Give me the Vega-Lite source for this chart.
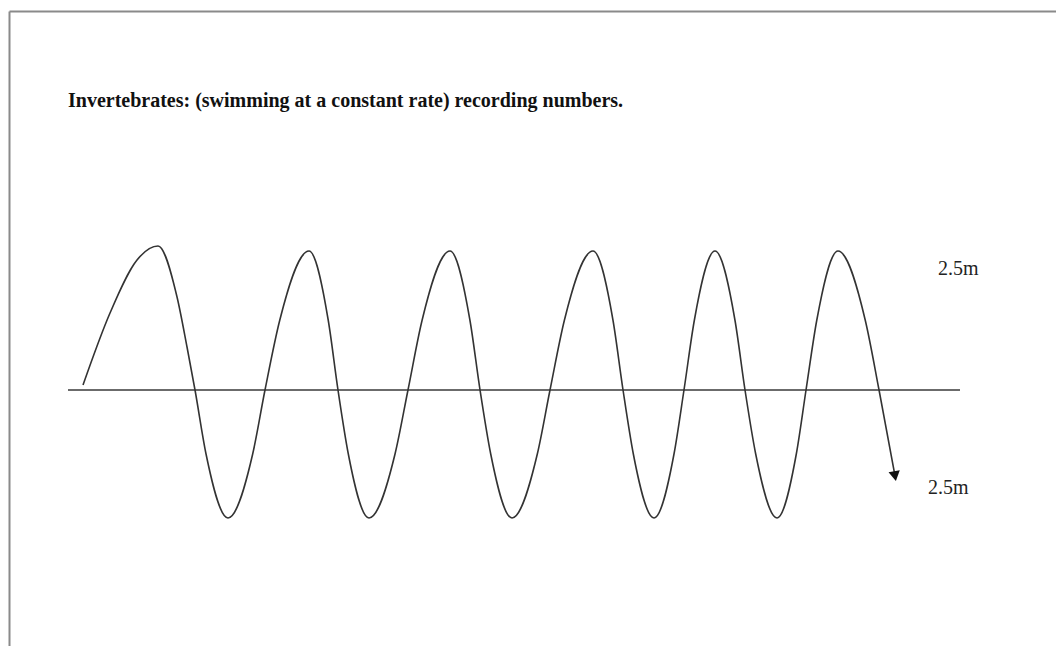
{
  "$schema": "https://vega.github.io/schema/vega-lite/v6.json",
  "width": 1047,
  "height": 635,
  "autosize": "none",
  "padding": {"left": 9, "top": 11, "right": 0, "bottom": 0},
  "background": "white",
  "view": {"stroke": null},
  "config": {
    "font": "Liberation Serif",
    "axis": {
      "domain": true,
      "domainColor": "#8a8a8a",
      "domainWidth": 2,
      "ticks": false,
      "labels": false,
      "grid": false,
      "title": null
    }
  },
  "datasets": {
    "path": [
      {"dist": 0.278, "depth": 0.093},
      {"dist": 0.778, "depth": 1.426},
      {"dist": 1.278, "depth": 2.407},
      {"dist": 1.667, "depth": 2.667},
      {"dist": 2.019, "depth": 1.722},
      {"dist": 2.204, "depth": 0.796},
      {"dist": 2.352, "depth": 0},
      {"dist": 2.556, "depth": -1.185},
      {"dist": 2.963, "depth": -2.37},
      {"dist": 3.42, "depth": -1.185},
      {"dist": 3.648, "depth": 0},
      {"dist": 3.92, "depth": 1.287},
      {"dist": 4.463, "depth": 2.574},
      {"dist": 4.82, "depth": 1.287},
      {"dist": 5.0, "depth": 0},
      {"dist": 5.191, "depth": -1.185},
      {"dist": 5.574, "depth": -2.37},
      {"dist": 6.056, "depth": -1.185},
      {"dist": 6.296, "depth": 0},
      {"dist": 6.556, "depth": 1.287},
      {"dist": 7.074, "depth": 2.574},
      {"dist": 7.444, "depth": 1.287},
      {"dist": 7.63, "depth": 0},
      {"dist": 7.828, "depth": -1.185},
      {"dist": 8.222, "depth": -2.37},
      {"dist": 8.691, "depth": -1.185},
      {"dist": 8.926, "depth": 0},
      {"dist": 9.191, "depth": 1.287},
      {"dist": 9.722, "depth": 2.574},
      {"dist": 10.093, "depth": 1.287},
      {"dist": 10.278, "depth": 0},
      {"dist": 10.469, "depth": -1.185},
      {"dist": 10.852, "depth": -2.37},
      {"dist": 11.222, "depth": -1.185},
      {"dist": 11.407, "depth": 0},
      {"dist": 11.598, "depth": 1.287},
      {"dist": 11.981, "depth": 2.574},
      {"dist": 12.352, "depth": 1.287},
      {"dist": 12.537, "depth": 0},
      {"dist": 12.735, "depth": -1.185},
      {"dist": 13.13, "depth": -2.37},
      {"dist": 13.487, "depth": -1.185},
      {"dist": 13.667, "depth": 0},
      {"dist": 13.865, "depth": 1.287},
      {"dist": 14.259, "depth": 2.574},
      {"dist": 14.765, "depth": 1.287},
      {"dist": 15.019, "depth": 0},
      {"dist": 15.315, "depth": -1.593}
    ],
    "arrowhead": [
      {"dist": 15.315, "depth": -1.593}
    ],
    "surface": [
      {"dist": 0, "dist_end": 16.519, "depth": 0}
    ],
    "amplitude": [
      {"dist": 16.111, "depth": 2.241, "label": "2.5m"},
      {"dist": 15.926, "depth": -1.815, "label": "2.5m"}
    ],
    "heading": [
      {"dist": 0, "depth": 5.241, "label": "Invertebrates: (swimming at a constant rate) recording numbers."}
    ]
  },
  "encoding": {
    "x": {
      "field": "dist",
      "type": "quantitative",
      "scale": {"domain": [-1.0926, 18.296], "nice": false, "zero": false},
      "axis": {"orient": "top"}
    },
    "y": {
      "field": "depth",
      "type": "quantitative",
      "scale": {"domain": [-4.7407, 7.0185], "nice": false, "zero": false},
      "axis": {"orient": "left"}
    }
  },
  "layer": [
    {
      "data": {"name": "surface"},
      "mark": {"type": "rule", "color": "#3a3a3a", "strokeWidth": 1.5},
      "encoding": {
        "x2": {"field": "dist_end"}
      }
    },
    {
      "data": {"name": "path"},
      "mark": {"type": "line", "interpolate": "monotone", "color": "#333333", "strokeWidth": 1.6}
    },
    {
      "data": {"name": "arrowhead"},
      "mark": {"type": "point", "shape": "triangle-down", "filled": true, "color": "#111111", "size": 130, "angle": 350, "opacity": 1}
    },
    {
      "data": {"name": "amplitude"},
      "mark": {"type": "text", "align": "left", "baseline": "middle", "fontSize": 20, "color": "#222222"},
      "encoding": {"text": {"field": "label"}}
    },
    {
      "data": {"name": "heading"},
      "mark": {"type": "text", "align": "left", "baseline": "alphabetic", "fontSize": 20, "fontWeight": "bold", "color": "#111111"},
      "encoding": {"text": {"field": "label"}}
    }
  ]
}
